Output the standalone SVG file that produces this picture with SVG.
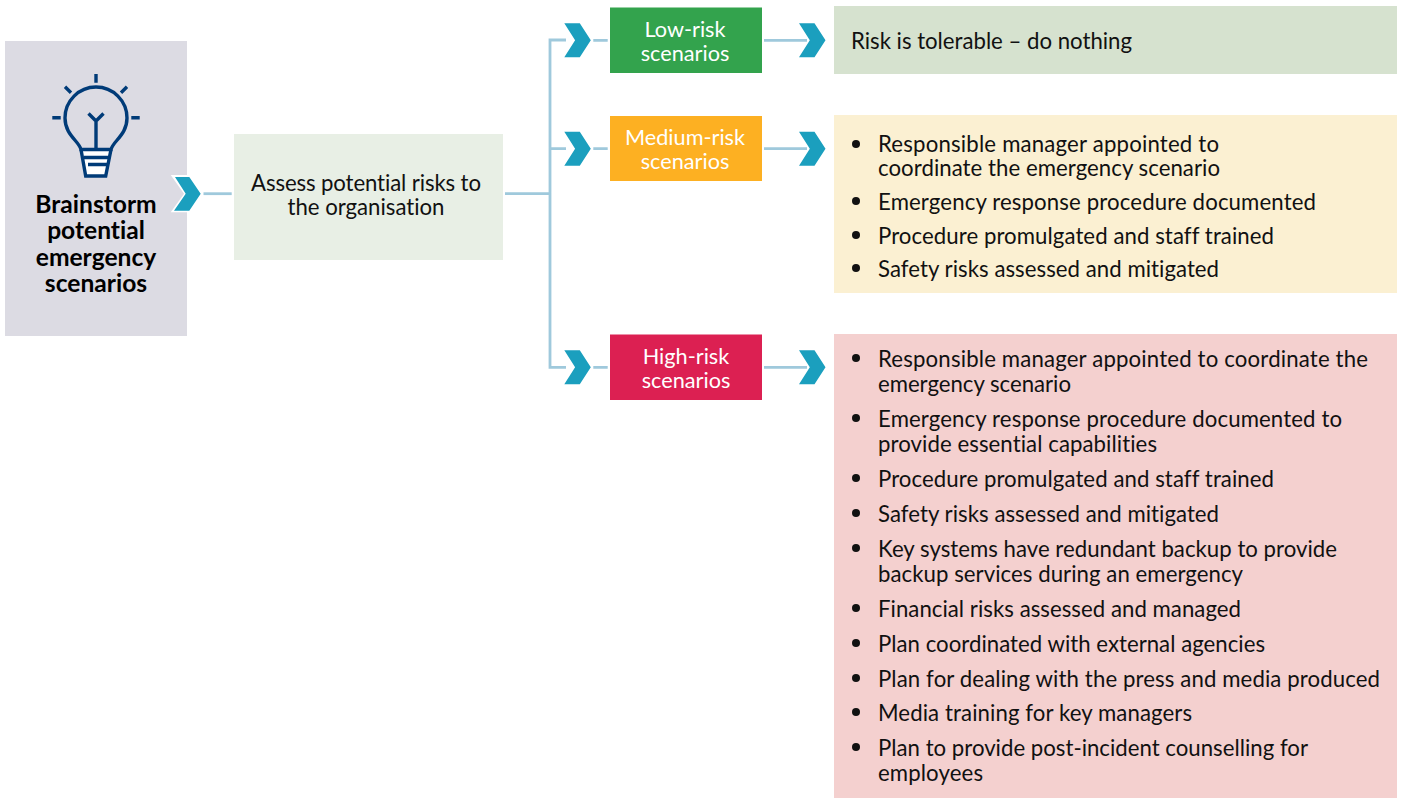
<svg xmlns="http://www.w3.org/2000/svg" width="1402" height="798" viewBox="0 0 1402 798">
<defs>
<style>
text{font-family:Lato,"Open Sans",sans-serif;font-size:22.2px;fill:#111;font-variant-ligatures:none}
.c{text-anchor:middle}
.w{fill:#fff;font-size:21.7px}
.b{font-weight:700;font-size:24.6px;fill:#000}
.ln{fill:none;stroke:#9fc9dc;stroke-width:2.8}
.ic{fill:none;stroke:#003b78;stroke-width:3.4}
</style>
<path id="arrow" d="M0 -17H15.500L26.500 0L15.500 17H0L10.800 0Z" fill="#1b9fbe"/>
<circle id="dot" r="4" fill="#111"/>
</defs>
<rect width="1402" height="798" fill="#fff"/>
<g id="connectors">
<path class="ln" d="M203.500 193.700H231.700"/>
<path class="ln" d="M505 193.700H550M550 40V367.300M548.600 40H566M550 148.700H566M548.600 367.300H566"/>
<path class="ln" d="M593.300 40.300H607.700M593.300 148.700H607.700M593.300 367.300H607.700"/>
<path class="ln" d="M764 40.300H807M764 148.700H807M764 367.300H807"/>
<use href="#arrow" x="564.300" y="40.300"/>
<use href="#arrow" x="564.300" y="148.700"/>
<use href="#arrow" x="564.300" y="367.300"/>
<use href="#arrow" x="799" y="40.300"/>
<use href="#arrow" x="799" y="148.700"/>
<use href="#arrow" x="799" y="367.300"/>
</g>
<g id="brainstorm">
<rect x="5" y="41" width="182" height="295" fill="#dcdbe3"/>
<path d="M81 149.500L85.700 176H105.700L111 149.500Z" fill="#fff"/>
<g class="ic">
<path d="M96 74V82.700M65 86.700L71 92.700M127 86.700L121 92.700M52.300 117.700H60.700M131.300 117.700H139.700"/>
<path d="M81 149.500C79 141 65 135 65 118A31 31 0 0 1 127 118C127 135 113 141 111 149.500Z"/>
<path d="M96 149.500V120.500M88.500 113.500L96 121L103.500 113.500"/>
<path d="M81 149.500L85.700 176H105.700L111 149.500M84 157.500H109M88 164.500H107"/>
</g>
<text class="c b" x="96" y="213">Brainstorm</text>
<text class="c b" x="96" y="239">potential</text>
<text class="c b" x="96" y="266">emergency</text>
<text class="c b" x="96" y="292">scenarios</text>
</g>
<g id="arrow-in"><path d="M170.700 175H190L200.700 193.700L190 212.300H170.700L184 193.700Z" fill="#fff"/><path d="M175 177H189.300L200.700 193.700L189.300 210.700H174L185.700 193.700Z" fill="#1b9fbe"/></g>
<g id="assess">
<rect x="234" y="134" width="269" height="126" fill="#e8efe5"/>
<text class="c" x="366" y="191" textLength="230">Assess potential risks to</text>
<text class="c" x="366" y="215" textLength="157">the organisation</text>
</g>
<g id="low">
<rect x="610" y="7.500" width="152" height="65.500" fill="#33a34d"/>
<text class="c w" x="685" y="37">Low-risk</text>
<text class="c w" x="685" y="61">scenarios</text>
</g>
<g id="medium">
<rect x="610" y="116" width="152" height="65" fill="#fdb022"/>
<text class="c w" x="685" y="145">Medium-risk</text>
<text class="c w" x="685" y="169">scenarios</text>
</g>
<g id="high">
<rect x="610" y="334.500" width="152" height="65.500" fill="#dc2052"/>
<text class="c w" x="686" y="364">High-risk</text>
<text class="c w" x="686" y="388">scenarios</text>
</g>
<g id="low-out">
<rect x="834" y="6" width="563" height="68" fill="#d6e2cf"/>
<text x="851" y="49" textLength="281">Risk is tolerable – do nothing</text>
</g>
<g id="medium-out">
<rect x="834" y="115" width="563" height="178" fill="#fbf0d2"/>
<use href="#dot" x="856" y="144"/><text x="878" y="152" textLength="341">Responsible manager appointed to</text>
<text x="878" y="176" textLength="342">coordinate the emergency scenario</text>
<use href="#dot" x="856" y="201"/><text x="878" y="210" textLength="438">Emergency response procedure documented</text>
<use href="#dot" x="856" y="235"/><text x="878" y="244" textLength="396">Procedure promulgated and staff trained</text>
<use href="#dot" x="856" y="268"/><text x="878" y="277" textLength="341">Safety risks assessed and mitigated</text>
</g>
<g id="high-out">
<rect x="834" y="334" width="563" height="464" fill="#f4d0cf"/>
<use href="#dot" x="856" y="358"/><text x="878" y="367" textLength="490">Responsible manager appointed to coordinate the</text>
<text x="878" y="392" textLength="193">emergency scenario</text>
<use href="#dot" x="856" y="418"/><text x="878" y="427" textLength="464">Emergency response procedure documented to</text>
<text x="878" y="452" textLength="279">provide essential capabilities</text>
<use href="#dot" x="856" y="478"/><text x="878" y="487" textLength="396">Procedure promulgated and staff trained</text>
<use href="#dot" x="856" y="513"/><text x="878" y="522" textLength="341">Safety risks assessed and mitigated</text>
<use href="#dot" x="856" y="548"/><text x="878" y="557" textLength="459">Key systems have redundant backup to provide</text>
<text x="878" y="582" textLength="365">backup services during an emergency</text>
<use href="#dot" x="856" y="608"/><text x="878" y="617" textLength="363">Financial risks assessed and managed</text>
<use href="#dot" x="856" y="643"/><text x="878" y="652" textLength="387">Plan coordinated with external agencies</text>
<use href="#dot" x="856" y="678"/><text x="878" y="687" textLength="502">Plan for dealing with the press and media produced</text>
<use href="#dot" x="856" y="712"/><text x="878" y="721" textLength="314">Media training for key managers</text>
<use href="#dot" x="856" y="747"/><text x="878" y="756" textLength="430">Plan to provide post-incident counselling for</text>
<text x="878" y="781" textLength="105">employees</text>
</g>
</svg>
